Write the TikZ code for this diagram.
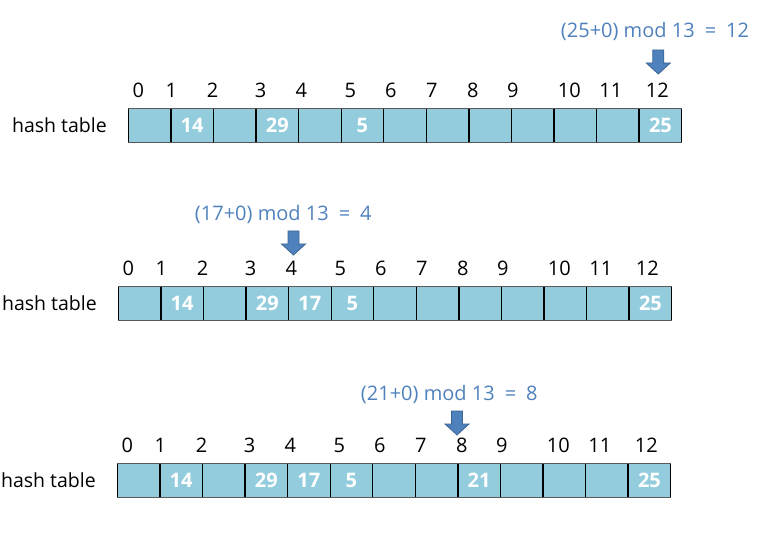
\documentclass[tikz,border=0pt]{standalone}
\usepackage{fontspec}
\setmainfont{Open Sans}
\definecolor{cellblue}{HTML}{93CDDD}
\definecolor{frmblue}{HTML}{4F81BD}
\definecolor{arrfill}{HTML}{4F81BD}
\definecolor{arrline}{HTML}{3B6593}
\begin{document}
\begin{tikzpicture}[x=1pt,y=-1pt,font=\fontsize{20}{24}\selectfont,
    valtxt/.style={text=white,font=\fontsize{20}{24}\selectfont\bfseries},
    labtxt/.style={anchor=east,font=\fontsize{19.5}{24}\selectfont},
    frmtxt/.style={text=frmblue},
    downarrow/.style={fill=arrfill,draw=arrline,line width=0.8pt,line join=miter}]
  \useasboundingbox (0,0) rectangle (757,534);
  \def\cw{42.57}
  \def\ch{34.4}
  \foreach \row/\xl/\yt in {1/128.3/108.3,2/118.3/286.3,3/117.3/463.3} {
    \begin{scope}[shift={(\xl,\yt)}]
      \coordinate (org\row) at (0,0);
      \fill[cellblue] (0,0) rectangle (13*\cw,\ch);
      \foreach \k in {0,...,13}
        \draw[line width=1.3pt] (\k*\cw,0) -- (\k*\cw,\ch);
      \draw[line width=1.5pt, gray!70!black] (0,0) -- (13*\cw,0) (0,\ch) -- (13*\cw,\ch);
      \foreach \k/\kx in {0/10,1/43,2/84.4,3/132.4,4/173,5/222,6/262.5,7/303.5,
          8/344.5,9/384.5,10/441,11/482.5,12/529}
        \node[anchor=base] (idx\row-\k) at (\kx,-10.5) {\k};
      \node[labtxt] (lab\row) at (-18,0.5*\ch) {hash table};
    \end{scope}
  }
  \foreach \row/\pos/\val in {1/1/14,1/3/29,1/5/5,1/12/25,
      2/1/14,2/3/29,2/4/17,2/5/5,2/12/25,
      3/1/14,3/3/29,3/4/17,3/5/5,3/8/21,3/12/25}
    \node[valtxt] (val\row-\pos) at ([shift={(\pos*\cw+0.5*\cw,0.5*\ch)}]org\row) {\val};
  \foreach \row/\key/\slot/\fx/\fy/\ax/\ty in {1/25/12/655/31.7/658.3/74,
      2/17/4/283.3/214/293.5/255,3/21/8/449.3/394/457/435} {
    \node[frmtxt] (frm\row) at (\fx,\fy) {(\key+0) mod 13\enspace=\enspace\slot};
    \coordinate (tip\row) at (\ax,\ty);
    \draw[downarrow] (tip\row) -- ++(-12,-11) -- ++(6.5,0) -- ++(0,-13) -- ++(11,0)
      -- ++(0,13) -- ++(6.5,0) -- cycle;
  }
\end{tikzpicture}
\end{document}
